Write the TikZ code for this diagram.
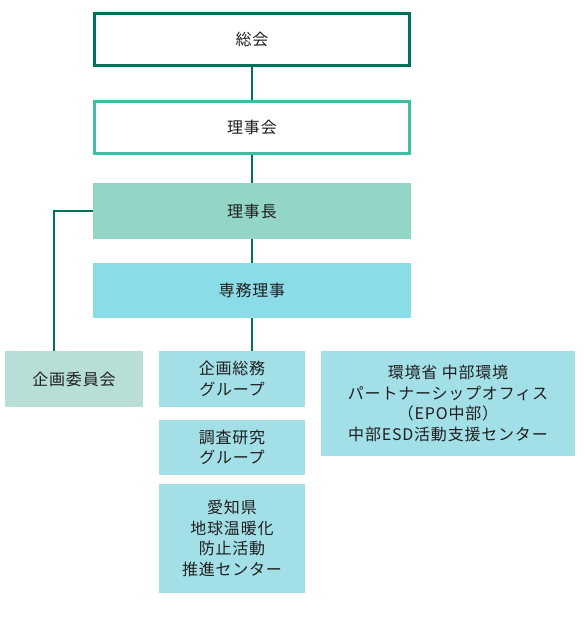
\documentclass[tikz,border=0pt]{standalone}
\usepackage{fontspec}
\setmainfont{Noto Sans CJK JP}[LetterSpace=5]
\usepackage{tikz}
\definecolor{linegreen}{HTML}{00705A}
\definecolor{midgreen}{HTML}{3DBFA5}
\definecolor{chofill}{HTML}{93D5C7}
\definecolor{senmufill}{HTML}{8ADDE6}
\definecolor{iinfill}{HTML}{B7DFD7}
\definecolor{grpfill}{HTML}{A3DFE6}
\tikzset{
  orgbox/.style={rectangle, align=center, inner sep=0pt, font=\fontsize{16}{20.5}\selectfont, text=black!88},
  topbox/.style={orgbox, draw=linegreen, line width=3pt, minimum width=315pt, minimum height=52pt},
  boardbox/.style={orgbox, draw=midgreen, line width=3pt, minimum width=315pt, minimum height=52pt},
  fillbox/.style={orgbox, fill=#1},
  link/.style={draw=linegreen, line width=2pt}
}

\begin{document}
\begin{tikzpicture}[x=1pt,y=-1pt]
\useasboundingbox (0,0) rectangle (585,622);
\node[topbox] (soukai) at (252,39.5) {総会};
\node[boardbox] (rijikai) at (252,127.5) {理事会};
\node[fillbox=chofill, minimum width=318pt, minimum height=56pt] (richo) at (252,211) {理事長};
\node[fillbox=senmufill, minimum width=318pt, minimum height=55pt] (senmu) at (252,290.5) {専務理事};
\node[fillbox=iinfill, minimum width=138pt, minimum height=56pt] (iinkai) at (74,379) {企画委員会};
\node[fillbox=grpfill, minimum width=146pt, minimum height=56pt] (somu) at (232,379) {企画総務\\グループ};
\node[fillbox=grpfill, minimum width=146pt, minimum height=55pt] (chosa) at (232,447.5) {調査研究\\グループ};
\node[fillbox=grpfill, minimum width=146pt, minimum height=109pt] (aichi) at (232,538.5) {愛知県\\地球温暖化\\防止活動\\推進センター};
\node[fillbox=grpfill, minimum width=254pt, minimum height=105pt] (epo) at (448,403.5) {環境省 中部環境\\パートナーシップオフィス\\（EPO中部）\\中部ESD活動支援センター};
\draw[link] (soukai) -- (rijikai);
\draw[link] (rijikai) -- (richo);
\draw[link] (richo) -- (senmu);
\draw[link] (senmu.south) -- (somu.north -| senmu.south);
\draw[link] (richo.west) -| (iinkai.north -| 54,0);
\end{tikzpicture}
\end{document}
